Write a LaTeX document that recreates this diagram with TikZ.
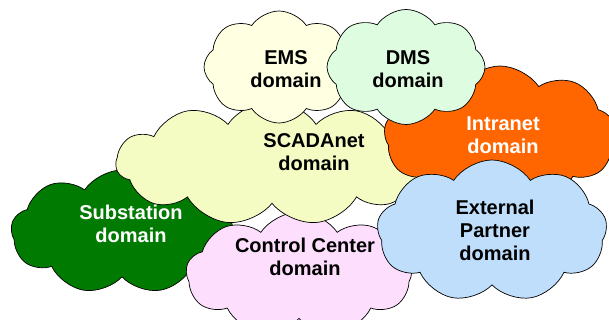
\documentclass[tikz,border=0pt]{standalone}
\usepackage{fontspec}
\setsansfont{Liberation Sans}
\usetikzlibrary{shapes.symbols}
\definecolor{subfill}{RGB}{0,122,0}
\definecolor{ccfill}{RGB}{253,222,252}
\definecolor{scadafill}{RGB}{244,252,196}
\definecolor{intrafill}{RGB}{255,102,0}
\definecolor{emsfill}{RGB}{255,255,226}
\definecolor{dmsfill}{RGB}{222,252,224}
\definecolor{extfill}{RGB}{190,222,252}
\tikzset{dom/.style={cloud, cloud puffs=9, cloud puff arc=112, cloud ignores aspect,
                     draw=black, line width=0.7pt, inner sep=0pt},
         lbl/.style={align=center, font=\sffamily\bfseries\fontsize{20}{23}\selectfont}}

\begin{document}
\begin{tikzpicture}[x=1pt, y=-1pt]
  \useasboundingbox (0,0) rectangle (609,320);
  \clip (0,0) rectangle (609,320);

  % ---------- clouds, back to front ----------
  \node[dom, fill=subfill,   minimum width=222pt, minimum height=124pt] (sub)   at (122,232) {};
  \node[dom, fill=ccfill,    minimum width=226pt, minimum height=124pt, shape border rotate=15] (cc) at (299,274) {};
  \node[dom, fill=scadafill, minimum width=312pt, minimum height=124pt, cloud puffs=11] (scada) at (272,163) {};
  \node[dom, fill=intrafill, minimum width=232pt, minimum height=140pt, shape border rotate=10] (intra) at (500,136) {};
  \node[dom, fill=emsfill,   minimum width=150pt, minimum height=112pt, cloud puffs=8] (ems) at (279,67) {};
  \node[dom, fill=dmsfill,   minimum width=158pt, minimum height=115pt, cloud puffs=8, shape border rotate=20] (dms) at (406,67) {};
  \node[dom, fill=extfill,   minimum width=230pt, minimum height=142pt] (ext)   at (492,231) {};

  % ---------- labels ----------
  \node[lbl, text=white] (sub-t)   at (131,224) {Substation\\domain};
  \node[lbl]             (cc-t)    at (305,257) {Control Center\\domain};
  \node[lbl]             (scada-t) at (314,152) {SCADAnet\\domain};
  \node[lbl, text=white] (intra-t) at (503,135) {Intranet\\domain};
  \node[lbl]             (ems-t)   at (286,69)  {EMS\\domain};
  \node[lbl]             (dms-t)   at (408,69)  {DMS\\domain};
  \node[lbl]             (ext-t)   at (495,230) {External\\Partner\\domain};

\end{tikzpicture}
\end{document}
